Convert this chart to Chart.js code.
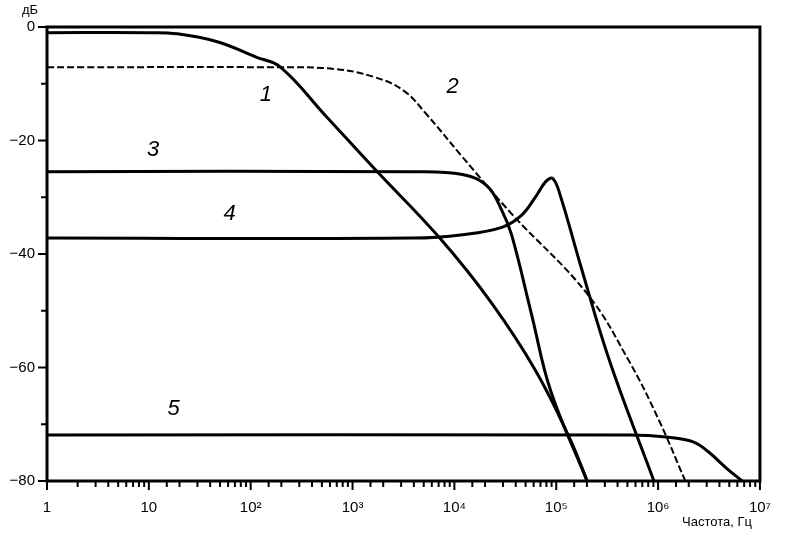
<!DOCTYPE html>
<html>
<head>
<meta charset="utf-8">
<script src="https://cdn.jsdelivr.net/npm/chart.js@4/dist/chart.umd.min.js"></script>
<style>
  body { margin: 0; background: #fff; }
  #wrap { width: 789px; height: 547px; }
</style>
</head>
<body>
<div id="wrap"><canvas id="myChart"></canvas></div>
<script>
// frequencies (Hz) and levels (dB)
var f1 = [1, 10, 19, 47, 113, 197, 535, 1626, 7190, 23300, 63400, 138000, 201000];
var db1 = [-1, -1, -1.2, -2.6, -5.3, -7.1, -15.5, -24.9, -37.2, -48.7, -60.7, -72.8, -80];

var f2 = [1, 197, 669, 1626, 3170, 5160, 12000, 36400, 201000, 523000, 1020000, 1850000];
var db2 = [-7.1, -7.1, -7.4, -8.8, -11.2, -15.1, -22.9, -32.9, -47, -59, -69.3, -80];

var f3 = [1, 3950, 12000, 20900, 29200, 36400, 56800, 88500, 201000];
var db3 = [-25.5, -25.5, -26, -28, -32.3, -36.6, -50.4, -64.2, -80];

var f4 = [1, 3950, 12000, 29200, 45500, 63400, 79200, 92500, 110000, 172000, 336000, 910000];
var db4 = [-37.2, -37.2, -36.6, -35.3, -33.2, -29.8, -27.2, -26.7, -29.8, -41.8, -59, -80];

var f5 = [1, 523000, 1270000, 2210000, 3090000, 4800000, 6700000];
var db5 = [-71.9, -71.9, -72.3, -73.1, -74.8, -77.9, -80];

// curve number labels
var curveNames = ["1", "2", "3", "4", "5"];
var nameF = [141, 9600, 11, 62, 17.5];
var nameDb = [-12, -10.5, -21.7, -32.9, -67.3];

var xTitle = "Частота, Гц";
var yTitle = "дБ";
var sup = { "0": "⁰", "1": "¹", "2": "²", "3": "³", "4": "⁴", "5": "⁵", "6": "⁶", "7": "⁷" };

function pts(fs, ds) {
  return fs.map(function(f, i) { return { x: f, y: ds[i] }; });
}

function line(fs, ds, dashed) {
  return {
    data: pts(fs, ds),
    borderColor: "#000",
    borderWidth: dashed ? 2 : 3,
    borderDash: dashed ? [7, 3] : [],
    pointRadius: 0,
    fill: false,
    tension: 0.4
  };
}

function isMajor(v) {
  var l = Math.log10(v);
  return Math.abs(l - Math.round(l)) < 1e-9;
}

var decor = {
  id: "decor",
  afterDraw: function(chart) {
    var c = chart.ctx, a = chart.chartArea;
    var xs = chart.scales.x, ys = chart.scales.y;
    c.save();
    c.strokeStyle = "#000";
    c.lineWidth = 3;
    c.strokeRect(a.left, a.top, a.right - a.left, a.bottom - a.top);
    c.lineWidth = 2;
    c.beginPath();
    xs.ticks.forEach(function(t) {
      var px = xs.getPixelForValue(t.value);
      var len = isMajor(t.value) ? 9 : 6;
      c.moveTo(px, a.bottom); c.lineTo(px, a.bottom + len);
    });
    ys.ticks.forEach(function(t) {
      var py = ys.getPixelForValue(t.value);
      var len = t.value % 20 === 0 ? 9 : 6;
      c.moveTo(a.left, py); c.lineTo(a.left - len, py);
    });
    c.stroke();
    c.fillStyle = "#000";
    c.font = "italic 22px 'Liberation Sans', Arial, sans-serif";
    c.textAlign = "center"; c.textBaseline = "middle";
    curveNames.forEach(function(n, i) {
      c.fillText(n, xs.getPixelForValue(nameF[i]), ys.getPixelForValue(nameDb[i]));
    });
    c.font = "13px 'Liberation Sans', Arial, sans-serif";
    c.textAlign = "right";
    c.fillText(xTitle, 752, 522);
    c.textAlign = "left";
    c.fillText(yTitle, 22, 10);
    c.restore();
  }
};

var chart = new Chart(document.getElementById("myChart"), {
  type: "line",
  data: {
    datasets: [line(f1, db1), line(f2, db2, true), line(f3, db3), line(f4, db4), line(f5, db5)]
  },
  options: {
    responsive: true,
    maintainAspectRatio: false,
    animation: false,
    layout: { padding: { left: 0, right: 7, top: 27, bottom: 12 } },
    plugins: { legend: { display: false }, tooltip: { enabled: false } },
    scales: {
      x: {
        type: "logarithmic",
        min: 1, max: 1e7,
        grid: { display: false, drawTicks: false },
        border: { display: false },
        ticks: {
          autoSkip: false, maxRotation: 0, padding: 18,
          color: "#000",
          font: { size: 15, family: "'Liberation Sans', Arial, sans-serif" },
          callback: function(v) {
            if (!isMajor(v)) return "";
            var e = Math.round(Math.log10(v));
            if (e === 0) return "1";
            if (e === 1) return "10";
            return "10" + sup[e];
          }
        }
      },
      y: {
        min: -80, max: 0,
        afterFit: function(s) { s.width = 47; },
        grid: { display: false, drawTicks: false },
        border: { display: false },
        ticks: {
          stepSize: 10, padding: 12,
          color: "#000",
          font: { size: 15, family: "'Liberation Sans', Arial, sans-serif" },
          callback: function(v) { return v % 20 === 0 ? (v < 0 ? "\u2212" + (-v) : v) : ""; }
        }
      }
    }
  },
  plugins: [decor]
});
</script>
</body>
</html>
